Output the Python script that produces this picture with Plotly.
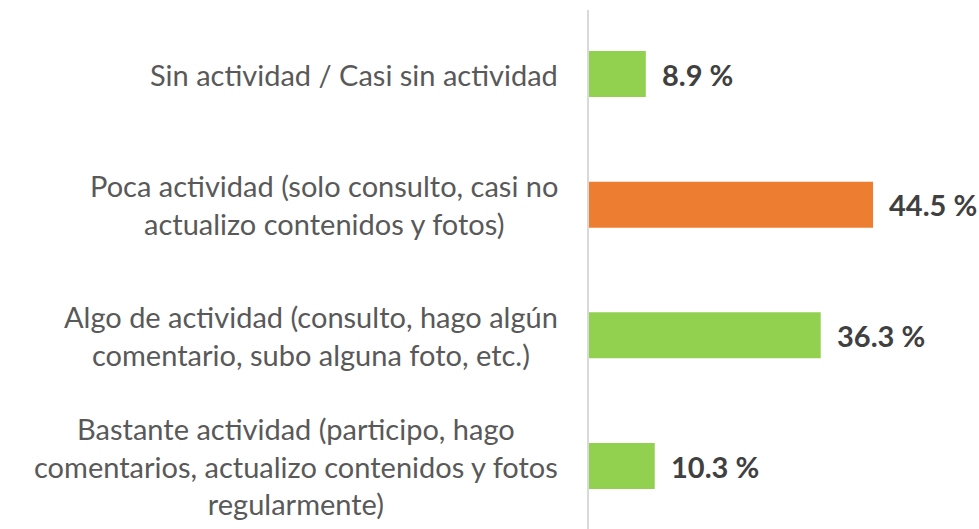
import plotly.graph_objects as go

categories = [
    "Sin actividad / Casi sin actividad",
    "Poca actividad (solo consulto, casi no<br>actualizo contenidos y fotos)",
    "Algo de actividad (consulto, hago algún<br>comentario, subo alguna foto, etc.)",
    "Bastante actividad (participo, hago<br>comentarios, actualizo contenidos y fotos<br>regularmente)",
]
values = [8.9, 44.5, 36.3, 10.3]
bar_colors = ["#92D050", "#ED7D31", "#92D050", "#92D050"]

FONT = "Lato"

fig = go.Figure()
fig.add_trace(go.Bar(
    y=categories,
    x=values,
    orientation="h",
    marker=dict(color=bar_colors, line=dict(width=0)),
    width=0.352,
    hoverinfo="skip",
))

# value labels
for c, v in zip(categories, values):
    fig.add_annotation(
        x=v, y=c, xref="x", yref="y",
        text=f"<b>{v:.1f} %</b>",
        showarrow=False, xanchor="left", yanchor="middle", xshift=14,
        font=dict(family=FONT, size=29, color="#404040"),
    )

# category labels (centered multi-line, right-aligned block)
for c in categories:
    fig.add_annotation(
        x=0, y=c, xref="x", yref="y",
        text=c, showarrow=False, xanchor="right", yanchor="middle",
        align="center", xshift=-29,
        font=dict(family=FONT, size=29, color="#595959"),
    )

fig.update_layout(
    width=979, height=529,
    margin=dict(l=589, r=0, t=10, b=0),
    paper_bgcolor="white", plot_bgcolor="white",
    showlegend=False,
    font=dict(family=FONT),
    xaxis=dict(range=[0, 61.1], visible=False, fixedrange=True),
    yaxis=dict(
        categoryorder="array", categoryarray=categories,
        range=[3.482, -0.49],
        showticklabels=False, ticks="",
        showline=True, linecolor="#D9D9D9", linewidth=2,
        showgrid=False, zeroline=False, fixedrange=True,
    ),
)

fig.write_html(
    "out.html",
    config={"displayModeBar": False},
    post_script="document.body.style.margin='0';document.body.style.overflow='hidden';",
)
